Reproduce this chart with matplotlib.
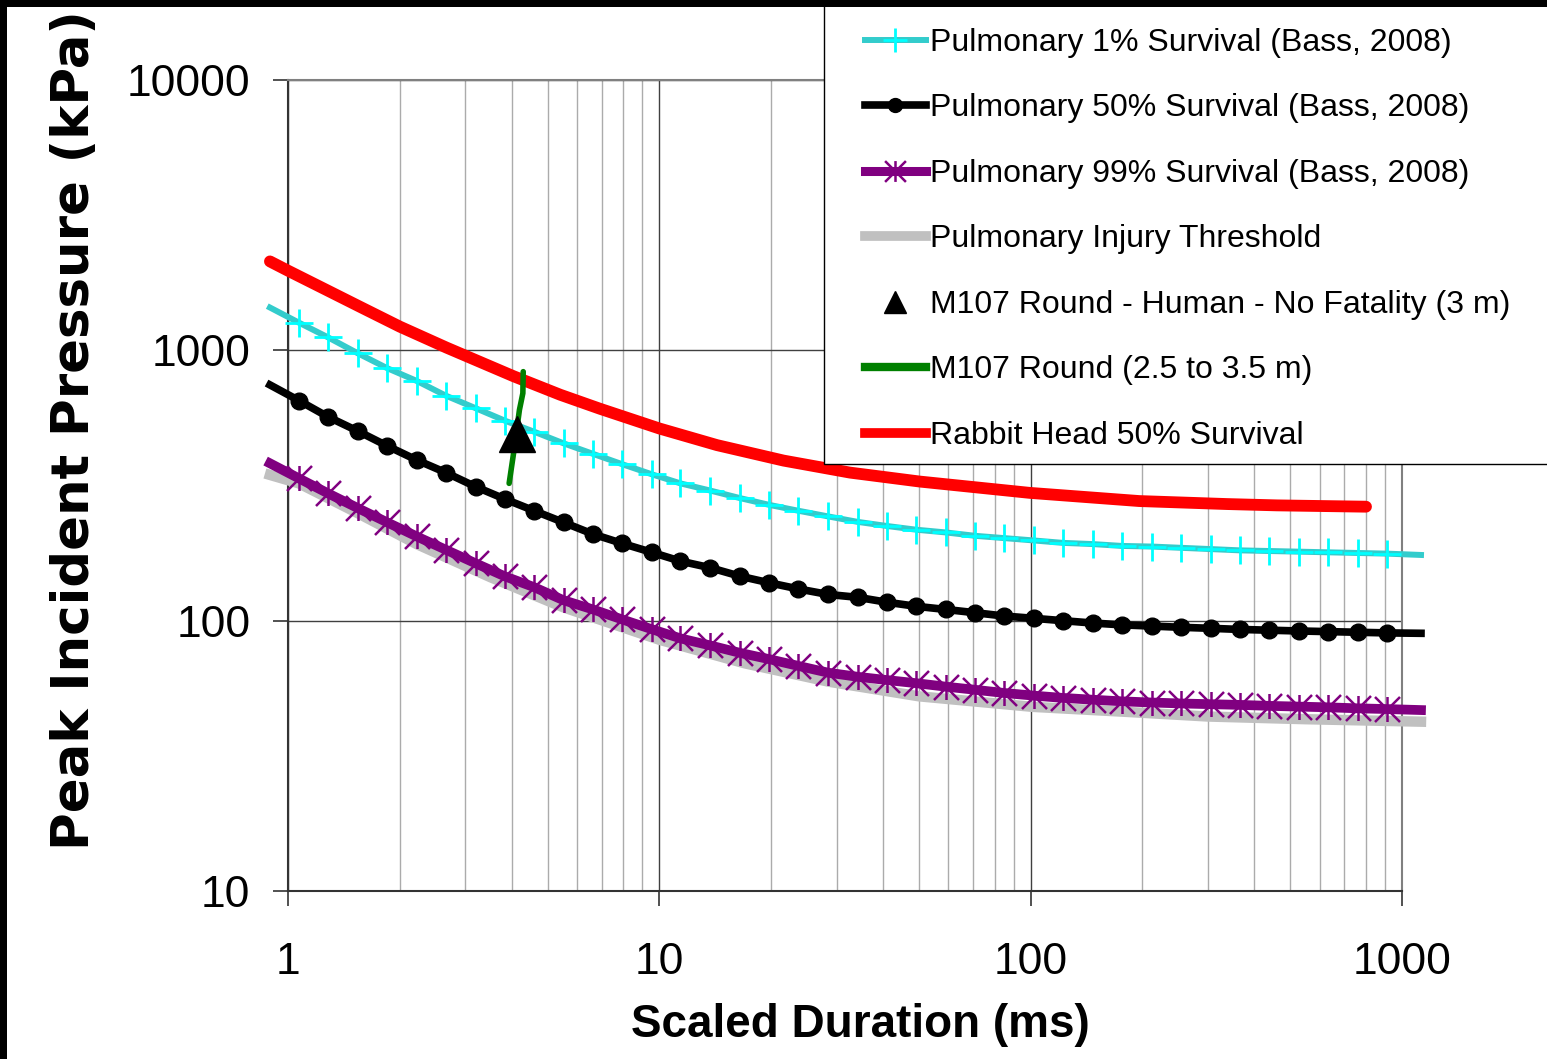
import numpy as np
import matplotlib.pyplot as plt
from matplotlib.path import Path
from matplotlib.lines import Line2D
from matplotlib.patches import Rectangle
from matplotlib.ticker import LogLocator, NullFormatter, NullLocator

plt.rcParams['font.family'] = ['Liberation Sans', 'DejaVu Sans']

# scaled duration (ms) at the curve points, first and last are line ends only
duration = [0.894, 1.07, 1.28, 1.54, 1.85, 2.22, 2.66, 3.20, 3.83, 4.60, 5.52,
            6.63, 7.95, 9.54, 11.4, 13.7, 16.5, 19.8, 23.7, 28.5, 34.2, 41.0,
            49.2, 59.1, 70.9, 85.0, 102, 122, 147, 176, 212, 254, 305, 366,
            439, 527, 632, 759, 911, 1125]

# peak incident pressure (kPa)
pulm_1 = [1440, 1266, 1118, 976, 859, 771, 680, 611, 550, 500, 453, 414, 379,
          348, 322, 303, 284, 268, 255, 243, 232, 224, 217, 212, 206, 202, 198,
          194, 192, 189, 188, 186, 184, 182, 181, 180, 179, 178, 177, 175]
pulm_50 = [745, 652, 568, 503, 443, 393, 353, 313, 282, 255, 231, 209, 193,
           179, 166, 157, 146, 138, 131, 125, 122, 117, 113, 110, 107, 104,
           102, 100, 98, 96.5, 95.5, 94.5, 93.7, 92.8, 92.2, 91.6, 91.1, 90.6,
           90.1, 89.8]
pulm_99 = [382, 336, 296, 261, 231, 205, 183, 163, 146, 133, 119, 110, 101,
           93, 86, 81, 76, 72, 68, 64.2, 62, 60.3, 58.7, 57, 55.5, 54, 52.8,
           51.8, 51, 50.3, 49.8, 49.4, 49.1, 48.8, 48.4, 48.1, 47.8, 47.4,
           47.1, 46.7]

thresh_x = [0.894, 1.07, 1.54, 2.22, 3.5, 5.52, 10, 17, 28.5, 50, 101, 180,
            300, 550, 1125]
thresh_y = [346, 322, 250, 192, 145, 112, 85, 69.5, 59.5, 52.5, 48, 46, 44.2,
            43.2, 42.3]

rabbit_x = [0.894, 1.0, 1.27, 1.56, 2.0, 2.67, 4.05, 5.41, 6.92, 10.0, 14.3,
            21.6, 32.6, 50.3, 99.4, 196, 338, 460, 800]
rabbit_y = [2133, 1971, 1672, 1451, 1224, 1024, 802, 685, 608, 514, 446, 391,
            353, 327, 297, 277, 270, 267, 264]

m107_x = [3.94, 4.05, 4.20, 4.29, 4.30]
m107_y = [322, 416, 602, 694, 834]

human_x = [4.13]
human_y = [491]

labels = ['Pulmonary 1% Survival (Bass, 2008)',
          'Pulmonary 50% Survival (Bass, 2008)',
          'Pulmonary 99% Survival (Bass, 2008)',
          'Pulmonary Injury Threshold',
          'M107 Round - Human - No Fatality (3 m)',
          'M107 Round (2.5 to 3.5 m)',
          'Rabbit Head 50% Survival']

W, H = 1547, 1059
fig = plt.figure(figsize=(W / 100, H / 100), dpi=100)
ax = fig.add_axes([288 / W, 1 - 891 / H, (1402 - 288) / W, (891 - 80) / H])
ax.set_xscale('log')
ax.set_yscale('log')
ax.set_xlim(1, 1000)
ax.set_ylim(10, 10000)

# excel style star marker: vertical bar plus an x
star = Path([(0, -1), (0, 1), (-1, -1), (1, 1), (-1, 1), (1, -1)],
            [Path.MOVETO, Path.LINETO, Path.MOVETO, Path.LINETO,
             Path.MOVETO, Path.LINETO])

inner = slice(1, -1)
ax.plot(thresh_x, thresh_y, color='#C0C0C0', lw=7.5, clip_on=False, zorder=3)
ax.plot(duration, pulm_99, color='#800080', lw=7, marker=star, ms=18,
        mec='#800080', mew=1.8, markevery=inner, clip_on=False, zorder=4)
ax.plot(duration, pulm_50, color='black', lw=5.5, marker='o', ms=12,
        markevery=inner, clip_on=False, zorder=5)
ax.plot(duration, pulm_1, color='#33CCCC', lw=4.3, marker='+', ms=20,
        mec='#00FFFF', mew=2, markevery=inner, clip_on=False, zorder=6)
ax.plot(rabbit_x, rabbit_y, color='#FF0000', lw=8.5, solid_capstyle='round',
        solid_joinstyle='round', clip_on=False, zorder=7)
ax.plot(m107_x, m107_y, color='#008000', lw=4, solid_capstyle='round',
        zorder=8)
ax.plot(human_x, human_y, linestyle='none', marker='^', ms=26.5,
        color='black', zorder=9)

ax.set_xticks([1, 10, 100, 1000])
ax.set_xticklabels(['1', '10', '100', '1000'])
ax.set_yticks([10, 100, 1000, 10000])
ax.set_yticklabels(['10', '100', '1000', '10000'])
ax.xaxis.set_minor_locator(LogLocator(base=10, subs=range(2, 10)))
ax.xaxis.set_minor_formatter(NullFormatter())
ax.yaxis.set_minor_locator(NullLocator())
ax.tick_params(which='minor', length=0)
ax.tick_params(which='major', direction='out', length=10.5, width=1.2,
               color='#333333', labelsize=32)
ax.tick_params(axis='x', pad=26)
ax.tick_params(axis='y', pad=16.5)
ax.grid(which='major', color='#404040', lw=1)
ax.grid(which='minor', axis='x', color='#ABABAB', lw=1)
ax.set_axisbelow(True)
for s in ['left', 'bottom']:
    ax.spines[s].set_color('#333333')
    ax.spines[s].set_linewidth(1.5)
for s in ['top', 'right']:
    ax.spines[s].set_color('#808080')
    ax.spines[s].set_linewidth(1.5)

fig.text(860 / W, 1 - 1025 / H, 'Scaled Duration (ms)', ha='center',
         va='center', fontsize=33, fontweight='bold')
fig.text(75 / W, 1 - 430 / H, 'Peak Incident Pressure (kPa)', rotation=90,
         ha='center', va='center', fontsize=37, fontweight='bold',
         family='DejaVu Sans')

# legend box, runs off the right edge as in the original
fig.add_artist(Rectangle((824 / W, 1 - 464 / H), 800 / W, 464 / H,
                         transform=fig.transFigure, facecolor='white',
                         edgecolor='black', lw=1, zorder=1))

handles = [
    Line2D([], [], color='#33CCCC', lw=4.3, marker='+', ms=17,
           mec='#00FFFF', mew=2),
    Line2D([], [], color='black', lw=5.5, marker='o', ms=10),
    Line2D([], [], color='#800080', lw=6.5, marker=star, ms=15,
           mec='#800080', mew=1.8),
    Line2D([], [], color='#C0C0C0', lw=7),
    Line2D([], [], linestyle='none', marker='^', ms=16, color='black'),
    Line2D([], [], color='#008000', lw=6),
    Line2D([], [], color='#FF0000', lw=7),
]
fig.legend(handles, labels, loc='upper left',
           bbox_to_anchor=(865 / W, 1 - 28 / H), frameon=False,
           borderpad=0, borderaxespad=0, fontsize=23, labelspacing=1.11,
           handlelength=1.9, handletextpad=0.15)

# dark border strips on the left and top
fig.add_artist(Rectangle((0, 0), 7 / W, 1, transform=fig.transFigure,
                         facecolor='black', edgecolor='none', zorder=10))
fig.add_artist(Rectangle((0, 1 - 7 / H), 1, 7 / H, transform=fig.transFigure,
                         facecolor='black', edgecolor='none', zorder=10))

fig.savefig('out.png', dpi=100)
